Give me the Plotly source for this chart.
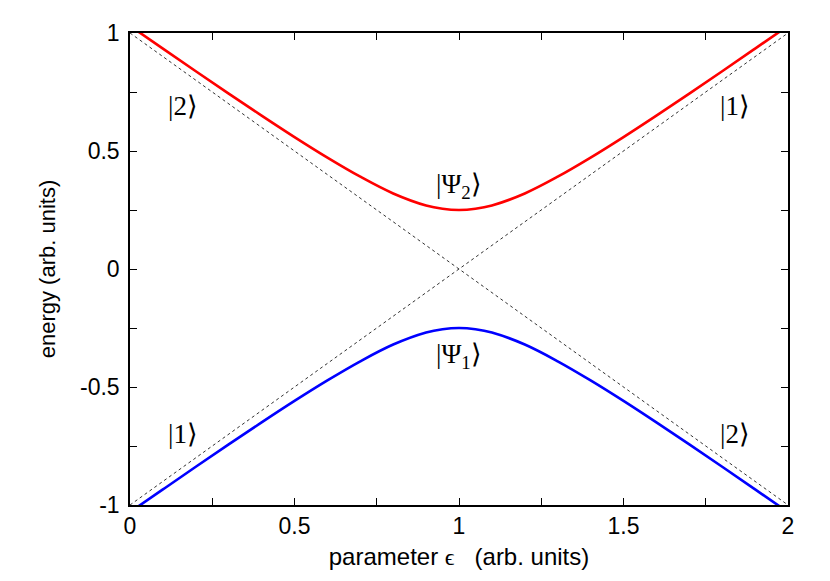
import plotly.graph_objects as go

# parameter epsilon samples
eps = [0.0, 0.1, 0.2, 0.3, 0.4, 0.5, 0.6, 0.7, 0.8, 0.9, 0.95, 1.0, 1.05, 1.1, 1.2, 1.3, 1.4, 1.5, 1.6, 1.7, 1.8, 1.9, 2.0]
# upper adiabatic state |Psi_2>
e_psi2 = [1.03, 0.934, 0.838, 0.743, 0.650, 0.559, 0.472, 0.391, 0.320, 0.269, 0.255, 0.25, 0.255, 0.269, 0.320, 0.391, 0.472, 0.559, 0.650, 0.743, 0.838, 0.934, 1.03]
# lower adiabatic state |Psi_1>
e_psi1 = [-1.03, -0.934, -0.838, -0.743, -0.650, -0.559, -0.472, -0.391, -0.320, -0.269, -0.255, -0.25, -0.255, -0.269, -0.320, -0.391, -0.472, -0.559, -0.650, -0.743, -0.838, -0.934, -1.03]
# diabatic states (dotted)
dia_x = [0.0, 2.0]
dia_1 = [-1.0, 1.0]
dia_2 = [1.0, -1.0]

x_ticks = [0, 0.5, 1, 1.5, 2]
x_ticktext = ["0", "0.5", "1", "1.5", "2"]
y_ticks = [-1, -0.5, 0, 0.5, 1]
y_ticktext = ["-1", "-0.5", "0", "0.5", "1"]

# state labels
lab_x = [0.16, 1.84, 0.16, 1.84, 1.0, 1.0]
lab_y = [0.69, 0.69, -0.70, -0.70, 0.35, -0.37]
lab_t = ["|2⟩", "|1⟩", "|1⟩", "|2⟩", "|Ψ<sub>2</sub>⟩", "|Ψ<sub>1</sub>⟩"]

fig = go.Figure()
fig.add_trace(go.Scatter(x=dia_x, y=dia_1, mode="lines",
                         line=dict(color="#333333", width=1, dash="dot"), showlegend=False))
fig.add_trace(go.Scatter(x=dia_x, y=dia_2, mode="lines",
                         line=dict(color="#333333", width=1, dash="dot"), showlegend=False))
fig.add_trace(go.Scatter(x=eps, y=e_psi2, mode="lines",
                         line=dict(color="#ff0000", width=2.6, shape="spline"), showlegend=False))
fig.add_trace(go.Scatter(x=eps, y=e_psi1, mode="lines",
                         line=dict(color="#0000ff", width=2.6, shape="spline"), showlegend=False))

for x, y, t in zip(lab_x, lab_y, lab_t):
    fig.add_annotation(x=x, y=y, text=t, showarrow=False,
                       font=dict(family="Liberation Serif", size=27, color="black"))

axis_common = dict(showline=True, linecolor="black", linewidth=1.5, mirror="allticks",
                   ticks="inside", ticklen=7, tickwidth=1, tickcolor="black",
                   showgrid=False, zeroline=False,
                   tickfont=dict(family="Liberation Sans", size=23, color="black"),
                   minor=dict(ticks="inside", ticklen=7, tickwidth=1, tickcolor="black", dtick=0.25, showgrid=False))

fig.update_xaxes(range=[0, 2], tickvals=x_ticks, ticktext=x_ticktext,
                 title=dict(text="parameter\u00a0<span style=\"font-family:Liberation Serif\">ϵ</span>\u00a0\u00a0\u00a0(arb.\u00a0units)",
                            font=dict(family="Liberation Sans", size=24, color="black"), standoff=10),
                 **axis_common)
fig.update_yaxes(range=[-1, 1], tickvals=y_ticks, ticktext=y_ticktext, ticklabelstandoff=4,
                 title=dict(text="energy (arb. units)",
                            font=dict(family="Liberation Sans", size=22, color="black"), standoff=18),
                 **axis_common)

fig.update_layout(width=822, height=573, margin=dict(l=122, r=42, t=22, b=76),
                  plot_bgcolor="white", paper_bgcolor="white")
fig.write_html("out.html")
